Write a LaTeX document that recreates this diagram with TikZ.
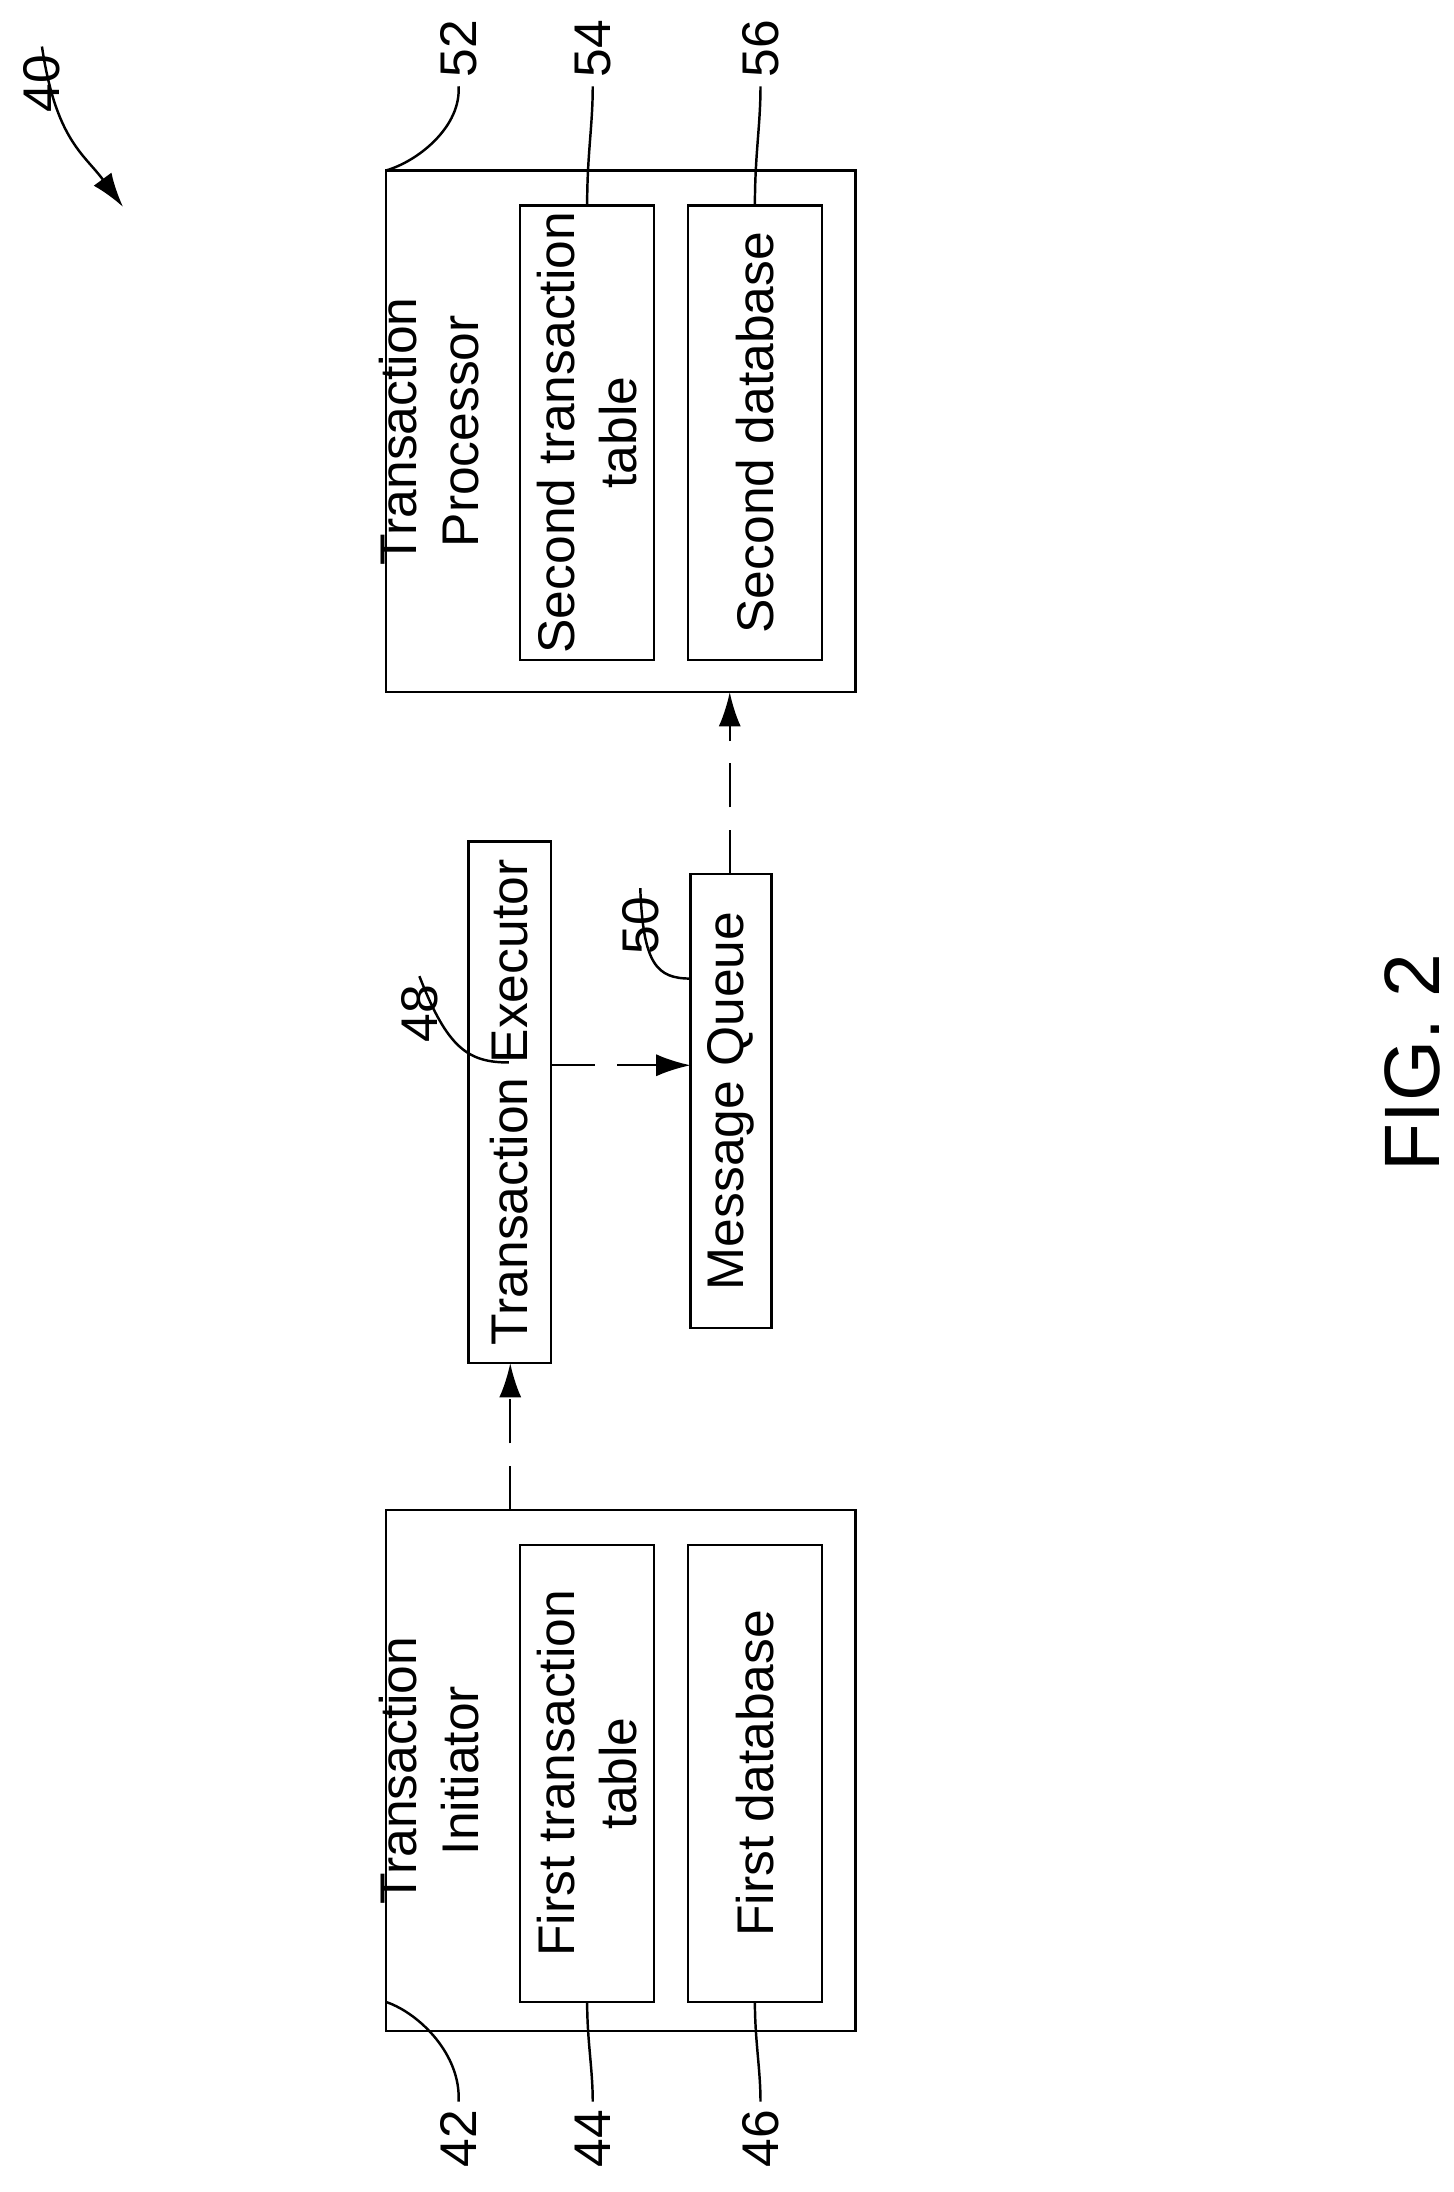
\documentclass[tikz,border=0pt]{standalone}
\usepackage{fontspec}
\setmainfont{Liberation Sans}
\usetikzlibrary{arrows.meta}
\begin{document}
\begin{tikzpicture}[x=0.02cm,y=-0.02cm,
    box/.style={rectangle, draw, line width=1pt, rotate=90, inner sep=0pt, align=center, font=\fontsize{21}{25}\selectfont},
    lbl/.style={rotate=90, font=\fontsize{21}{25}\selectfont},
    flow/.style={-{Latex[length=14pt,width=9pt]}, line width=1pt, dash pattern=on 18pt off 9pt},
    lead/.style={line width=1pt}
]
\useasboundingbox (0,0) rectangle (1040,1568);

% initiator
\node [box, minimum width=7.46cm, minimum height=6.72cm] (init) at (444,1266.5) {};
\node [lbl, align=center] (initt) at (307,1266.5) {Transaction\\Initiator};
\node [box, minimum width=6.54cm, minimum height=1.92cm] (tab1) at (420,1268.5) {First transaction\\table};
\node [box, minimum width=6.54cm, minimum height=1.92cm] (db1) at (540,1268.5) {First database};

% processor
\node [box, minimum width=7.46cm, minimum height=6.72cm] (proc) at (444,308.5) {};
\node [lbl, align=center] (proct) at (307,308.5) {Transaction\\Processor};
\node [box, minimum width=6.5cm, minimum height=1.92cm] (tab2) at (420,309.5) {Second transaction\\table};
\node [box, minimum width=6.5cm, minimum height=1.92cm] (db2) at (540,309.5) {Second database};

% executor and queue
\node [box, minimum width=7.46cm, minimum height=1.18cm] (exec) at (364.5,788.5) {Transaction Executor};
\node [box, minimum width=6.5cm, minimum height=1.16cm] (mq) at (523,787.5) {Message Queue};

\coordinate (a1) at (365,1080);
\coordinate (a2) at (365,975);
\coordinate (b1) at (394,762);
\coordinate (b2) at (494,762);
\coordinate (c1) at (522,625);
\coordinate (c2) at (522,495);
\draw [flow] (a1) -- (a2);
\draw [flow] (b1) -- (b2);
\draw [flow] (c1) -- (c2);

% reference numerals
\node [lbl] (n42) at (328,1530) {42};
\node [lbl] (n44) at (424,1530) {44};
\node [lbl] (n46) at (544,1530) {46};
\node [lbl] (n52) at (328,35) {52};
\node [lbl] (n54) at (424,35) {54};
\node [lbl] (n56) at (544,35) {56};
\node [lbl] (n48) at (300,725) {48};
\node [lbl] (n50) at (458,662) {50};
\node [lbl] (n40) at (30,60) {40};
\node [lbl, font=\fontsize{32}{36}\selectfont] (fig) at (1010,760) {FIG. 2};

\draw [lead] (276,1432) .. controls (300,1440) and (330,1470) .. (n42.east);
\draw [lead] (420,1432) .. controls (420,1460) and (424,1480) .. (n44.east);
\draw [lead] (540,1432) .. controls (540,1460) and (544,1480) .. (n46.east);
\draw [lead] (276,122) .. controls (300,115) and (330,90) .. (n52.west);
\draw [lead] (420,147) .. controls (420,110) and (424,90) .. (n54.west);
\draw [lead] (540,147) .. controls (540,110) and (544,90) .. (n56.west);
\draw [lead] (364,760) .. controls (335,760) and (320,750) .. (n48.east);
\draw [lead] (494,700) .. controls (470,700) and (460,690) .. (n50.east);
\draw [lead, -{Latex[length=14pt,width=9pt]}] (n40.east) .. controls (40,100) and (60,110) .. (88,148);
\end{tikzpicture}
\end{document}
